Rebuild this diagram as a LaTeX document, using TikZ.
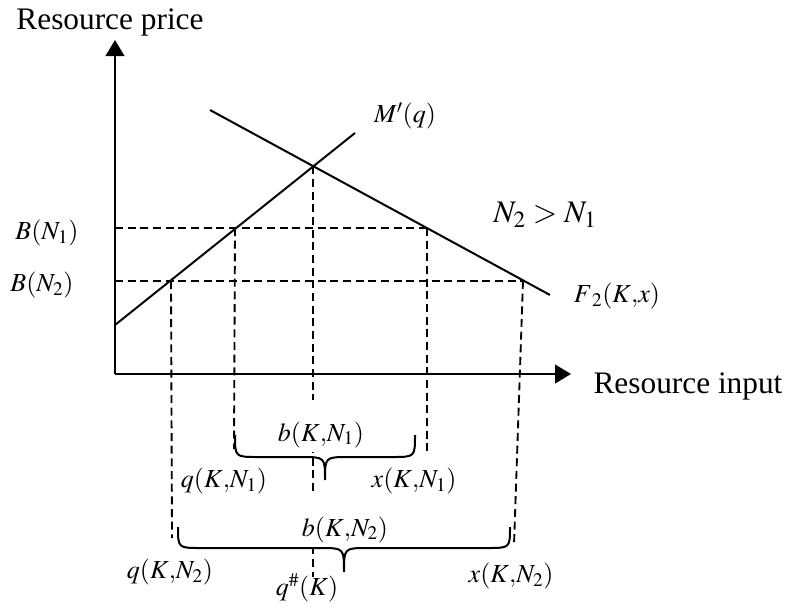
\documentclass[tikz,border=0pt]{standalone}
\usepackage{mathptmx}
\usepackage{fontspec}
\setmainfont{Liberation Serif}
\usetikzlibrary{arrows.meta, calc}

\begin{document}
\begin{tikzpicture}[
  x=0.75pt, y=-0.75pt,
  axis/.style={line width=1.6pt, -{Triangle[length=12pt, width=14pt]}},
  curve/.style={line width=1.5pt},
  guide/.style={line width=1.4pt, dash pattern=on 6pt off 3.5pt},
  brc/.style={line width=1.5pt},
  lbl/.style={font=\fontsize{19.5}{23}\selectfont},
  big/.style={font=\fontsize{23.5}{28}\selectfont}
]
\useasboundingbox (0,0) rectangle (789,608);

% axes
\coordinate (O) at (115,374);
\coordinate (ytop) at (115,40);
\coordinate (xend) at (571,374);
\draw[axis] (O) -- (ytop);
\draw[axis] (O) -- (xend);
\node[big, anchor=base] (ylab) at (110,29) {Resource price};
\node[big, anchor=base] (xlab) at (688,393) {Resource input};

% the two curves
\coordinate (m0) at (115,325);
\coordinate (m1) at (355,133);
\coordinate (f0) at (210,110);
\coordinate (f1) at (550,295);
\coordinate (E) at (intersection of m0--m1 and f0--f1);

% levels and crossing points
\coordinate (b1) at (115,228);
\coordinate (b2) at (115,281);
\coordinate (q1) at (235,228);
\coordinate (x1) at (427,228);
\coordinate (q2) at (171,281);
\coordinate (x2) at (523,281);
\coordinate (q1b) at (234,449);
\coordinate (x1b) at (427,451);
\coordinate (q2b) at (172,538);
\coordinate (x2b) at (514,545);
\coordinate (Eb) at (E |- 0,577);

\draw[guide] (b1) -- (x1);
\draw[guide] (b2) -- (x2);
\draw[guide] (q1) -- (q1b);
\draw[guide] (x1) -- (x1b);
\draw[guide] (q2) -- (q2b);
\draw[guide] (x2) -- (x2b);
\draw[guide] (E) -- (Eb);

\draw[curve] (m0) -- (m1);
\draw[curve] (f0) -- (f1);

\node[lbl] (mlab) at (405,116) {$M'(q)$};
\node[big] (nlab) at (545,215) {$N_2>N_1$};
\node[lbl] (flab) at (617,296) {$F{}_2(K{,}x)$};
\node[lbl] (B1) at (47,233) {$B(N_1)$};
\node[lbl] (B2) at (42,285) {$B(N_2)$};

% widths on the input axis
\node[lbl, fill=white, inner sep=0pt, text height=30.75pt, text depth=8.25pt, anchor=base]
  (b1lab) at (321,441) {$b(K{,}N_1)$};
\node[lbl, fill=white, inner sep=0pt, text height=30.75pt, text depth=9pt, anchor=base]
  (b2lab) at (345,536) {$b(K{,}N_2)$};

\draw[brc] (235,435) .. controls (235,457) and (235,457) .. (258,457) -- (301,457)
  .. controls (325,457) and (325,457) .. (325,480)
  .. controls (325,457) and (325,457) .. (349,457) -- (392,457)
  .. controls (415,457) and (415,457) .. (415,435);
\draw[brc] (178,527) .. controls (178,548) and (178,548) .. (201,548) -- (320,548)
  .. controls (344,548) and (344,548) .. (344,572)
  .. controls (344,548) and (344,548) .. (368,548) -- (487,548)
  .. controls (510,548) and (510,548) .. (510,527);

\node[lbl] (q1lab) at (224,481) {$q(K{,}N_1)$};
\node[lbl] (x1lab) at (414,481) {$x(K{,}N_1)$};
\node[lbl] (q2lab) at (170,572) {$q(K{,}N_2)$};
\node[lbl] (x2lab) at (511,576) {$x(K{,}N_2)$};
\node[lbl] (qs) at (307,588) {$q^{\#}(K)$};
\end{tikzpicture}
\end{document}
